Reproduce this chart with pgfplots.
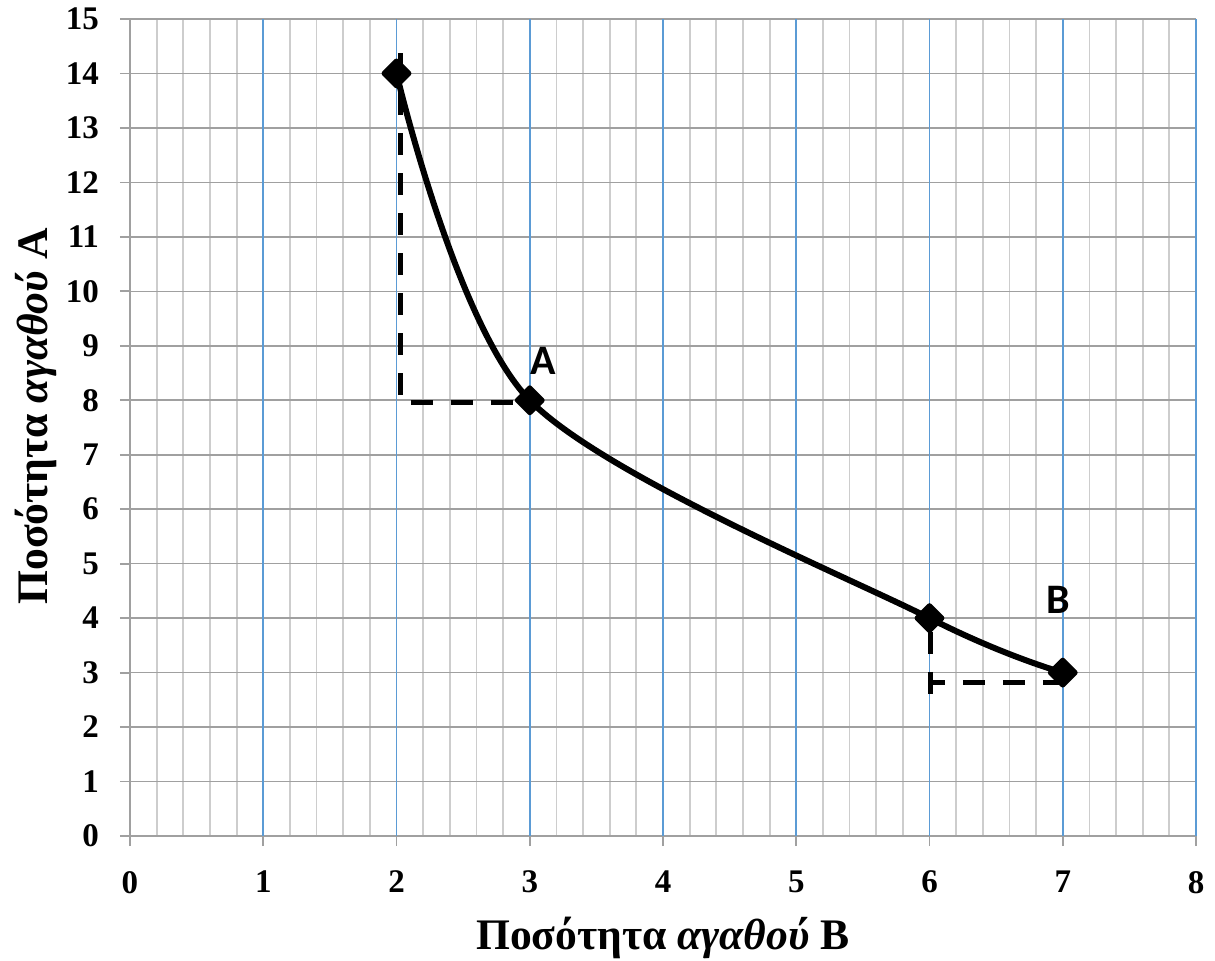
\documentclass[border=0pt]{standalone}
\usepackage{fontspec}
\setmainfont{Liberation Serif}
\newfontfamily\calib{Carlito}
\usepackage{pgfplots}
\pgfplotsset{compat=1.18}
\definecolor{gridblue}{RGB}{91,155,213}
\definecolor{gridgray}{RGB}{160,160,160}
\definecolor{minorgray}{RGB}{205,205,205}
\begin{document}
\begin{tikzpicture}
\begin{axis}[
  scale only axis,
  width=533pt, height=408.5pt,
  xmin=0, xmax=8, ymin=0, ymax=15,
  xtick={0,...,8}, ytick={0,...,15},
  minor x tick num=4,
  xminorgrids=true, ymajorgrids=true,
  major grid style={gridgray, line width=0.8pt},
  minor grid style={minorgray, line width=0.9pt},
  axis x line*=bottom, axis y line*=left,
  axis line style={gridgray, line width=0.9pt, -},
  tick align=outside,
  major tick length=5pt, minor tick length=0pt,
  tick style={gridgray, line width=0.9pt},
  extra x ticks={1,...,8},
  extra x tick labels={},
  extra x tick style={xmajorgrids=true, xminorgrids=false, major grid style={gridblue, line width=0.9pt}, major tick length=0pt},
  /pgf/number format/assume math mode=true,
  tick label style={font=\bfseries\fontsize{16.5}{18}\selectfont},
  xticklabel style={yshift=-9pt},
  yticklabel style={xshift=-7pt},
  xlabel={Ποσότητα \textit{αγαθού} Β},
  ylabel={Ποσότητα \textit{αγαθού} Α},
  label style={font=\bfseries\fontsize{21.8}{26}\selectfont},
  xlabel style={at={(axis description cs:0.5,-0.1395)}, anchor=base},
  ylabel style={at={(axis description cs:-0.0778,0.5135)}, anchor=base},
  clip=false,
]
\addplot[black, line width=2.6pt, dash pattern=on 11pt off 9pt] coordinates {(2.03,14.37) (2.03,7.96) (3,7.96)};
\addplot[black, line width=2.6pt, dash pattern=on 11pt off 9pt] coordinates {(6.01,3.75) (6.01,2.5)};
\addplot[black, line width=2.6pt, dash pattern=on 11pt off 9pt, dash phase=4pt] coordinates {(6.01,2.82) (7,2.82)};
\addplot[black, line width=3pt, smooth, mark=square*, mark size=4.4pt,
  mark options={solid, fill=black, rotate=45, line width=2.5pt, line join=round}]
  coordinates {(2,14) (3,8) (6,4) (7,3)};
\node[font=\calib\bfseries\fontsize{21}{24}\selectfont] at (axis cs:3.10,8.72) {A};
\node[font=\calib\bfseries\fontsize{21}{24}\selectfont] at (axis cs:6.97,4.33) {B};
\end{axis}
\pgfresetboundingbox
\path ([shift={(-65pt,-62pt)}]current axis.south west) rectangle ([shift={(9.5pt,9.5pt)}]current axis.north east);
\end{tikzpicture}
\end{document}
